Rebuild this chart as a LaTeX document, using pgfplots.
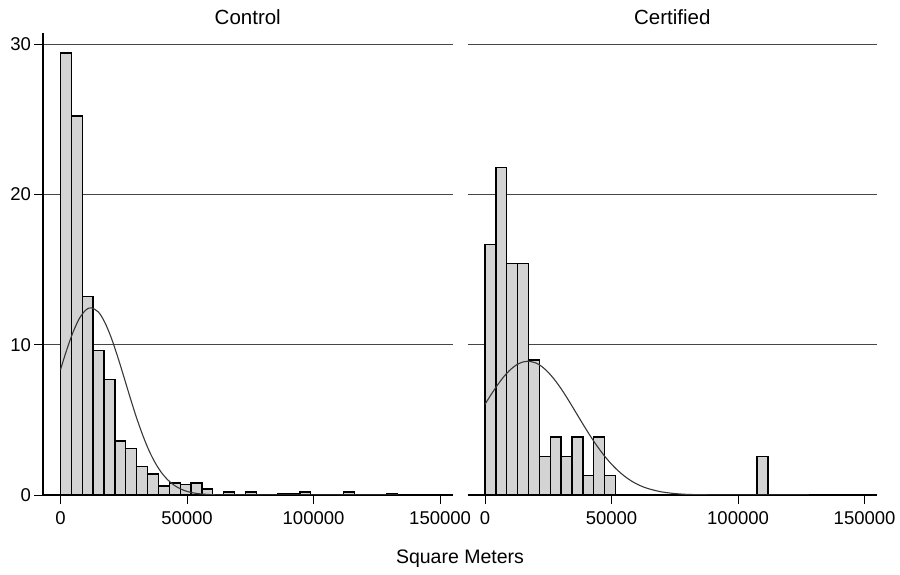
\documentclass[border=0pt]{standalone}
\usepackage{pgfplots}
\pgfplotsset{compat=1.18}
\usepackage{fontspec}
\setmainfont{Liberation Sans}
\definecolor{barfill}{RGB}{211,211,211}
\definecolor{curvec}{RGB}{55,55,55}
\definecolor{gridc}{RGB}{70,70,70}
\pgfplotsset{panel/.style={
  scale only axis, width=409.5bp, height=462bp,
  xmin=-6900, xmax=154900, ymin=0, ymax=30.73,
  axis x line*=bottom, axis y line*=left,
  axis line style={-, black, line width=1.2bp},
  scaled x ticks=false,
  xtick={0,50000,100000,150000}, xticklabels={0,50000,100000,150000},
  ytick={0,10,20,30}, yticklabels={0,10,20,30},
  ymajorgrids, grid style={gridc, line width=0.8bp},
  tick align=outside, major tick length=8.5bp,
  tick style={black, line width=0.9bp},
  ticklabel style={font=\fontsize{18.5bp}{20bp}\selectfont},
  xticklabel style={yshift=-5bp},
  /pgf/number format/assume math mode=true,
  title style={font=\fontsize{20.5bp}{22bp}\selectfont, anchor=base, at={(0.5,1)}, yshift=3bp},
},
bars/.style={ybar interval, fill=barfill, draw=black, line width=1.3bp},
dens/.style={smooth, curvec, line width=1.1bp, no markers}
}
\begin{document}
\begin{tikzpicture}
\path[use as bounding box] (0,0) rectangle (900bp,575bp);
\begin{axis}[panel, at={(43bp,80bp)}, anchor=south west, title={Control}]
\addplot[bars] coordinates {
(0,29.4) (4300,25.2) (8600,13.2) (12900,9.6) (17200,7.7) (21500,3.6)
(25800,3.1) (30100,1.9) (34400,1.4) (38700,0.6) (43000,0.8) (47300,0.7)
(51600,0.8) (55900,0.4) (60200,0) (64500,0.2) (68800,0) (73100,0.2)
(77400,0) (81700,0) (86000,0.1) (90300,0.1) (94600,0.2) (98900,0)
(103200,0) (107500,0) (111800,0.2) (116100,0) (120400,0) (124700,0)
(129000,0.1) (133300,0)
};
\addplot[dens] coordinates {
(0,8.33) (2500,9.67) (5000,10.84) (7500,11.75) (10000,12.30) (12100,12.45)
(15000,12.17) (17500,11.49) (20000,10.49) (22500,9.25) (25000,7.89)
(27500,6.50) (30000,5.17) (32500,3.98) (35000,2.95) (37500,2.12)
(40000,1.47) (42500,0.99) (45000,0.64) (47500,0.40) (50000,0.24)
(52500,0.14) (55000,0.08) (60000,0.02) (65000,0.0) (80000,0) (133300,0)
};
\end{axis}
\begin{axis}[panel, at={(467.5bp,80bp)}, anchor=south west, title={Certified},
  y axis line style={draw=none}, ytick style={draw=none}, yticklabels={}]
\addplot[bars] coordinates {
(0,16.67) (4300,21.79) (8600,15.38) (12900,15.38) (17200,8.97) (21500,2.56)
(25800,3.85) (30100,2.56) (34400,3.85) (38700,1.28) (43000,3.85) (47300,1.28)
(51600,0) (55900,0) (60200,0) (64500,0) (68800,0) (73100,0) (77400,0)
(81700,0) (86000,0) (90300,0) (94600,0) (98900,0) (103200,0)
(107500,2.56) (111800,0)
};
\addplot[dens] coordinates {
(0,6.03) (2500,6.70) (5000,7.33) (7500,7.88) (10000,8.33) (12500,8.66)
(15000,8.85) (17000,8.90) (20000,8.79) (22500,8.54) (25000,8.16)
(27500,7.67) (30000,7.09) (32500,6.44) (35000,5.75) (37500,5.05)
(40000,4.36) (42500,3.70) (45000,3.09) (47500,2.54) (50000,2.05)
(52500,1.63) (55000,1.27) (57500,0.97) (60000,0.73) (62500,0.54)
(65000,0.40) (67500,0.29) (70000,0.20) (75000,0.095) (80000,0.04)
(85000,0.02) (90000,0.01) (100000,0) (128000,0)
};
\end{axis}
\node[anchor=base, font=\fontsize{19.5bp}{21bp}\selectfont] at (460bp,11.7bp) {Square Meters};
\end{tikzpicture}
\end{document}
